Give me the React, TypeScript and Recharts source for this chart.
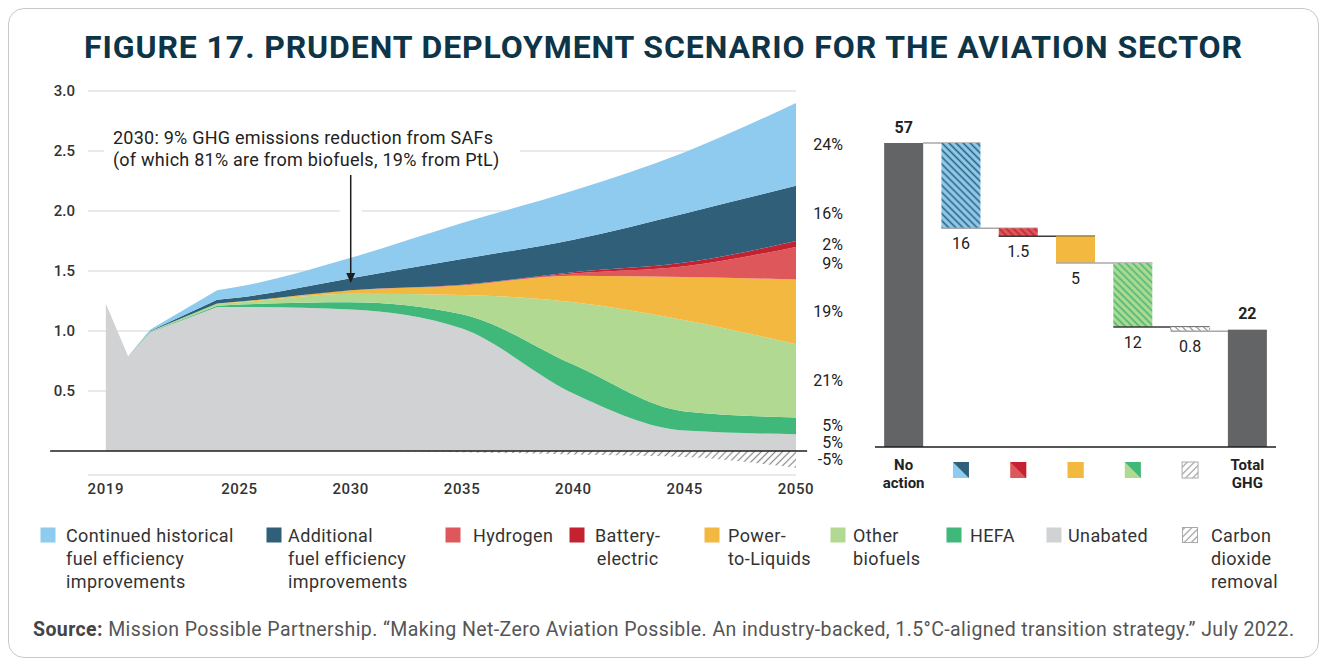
import React from 'react';
import {
  AreaChart,
  Area,
  XAxis,
  YAxis,
  CartesianGrid,
  ReferenceLine,
  ReferenceDot,
  BarChart,
  Bar,
} from 'recharts';

/* ── left panel: aviation emissions by lever, Gt CO2e ── */
const years = [2019, 2020, 2021, 2024, 2025, 2030, 2035, 2040, 2045, 2050];
const unabated = [1.23, 0.79, 0.99, 1.2, 1.2, 1.18, 1.02, 0.48, 0.17, 0.14];
const hefa = [0, 0, 0.004, 0.01, 0.02, 0.06, 0.12, 0.24, 0.16, 0.14];
const otherBiofuels = [0, 0, 0.004, 0.02, 0.02, 0.07, 0.16, 0.52, 0.76, 0.61];
const powerToLiquids = [0, 0, 0, 0, 0.005, 0.03, 0.08, 0.22, 0.36, 0.54];
const hydrogen = [0, 0, 0, 0, 0, 0, 0.005, 0.02, 0.09, 0.27];
const batteryElectric = [0, 0, 0, 0, 0, 0, 0, 0.01, 0.03, 0.05];
const additionalEfficiency = [0, 0, 0.004, 0.03, 0.035, 0.1, 0.215, 0.27, 0.41, 0.46];
const historicalEfficiency = [0, 0, 0.01, 0.08, 0.09, 0.17, 0.3, 0.41, 0.51, 0.69];
const carbonRemoval = [0, 0, 0, 0, 0, 0, -0.01, -0.03, -0.05, -0.14];

const yTicks = [0.5, 1.0, 1.5, 2.0, 2.5, 3.0];
const xTicks = [2019, 2025, 2030, 2035, 2040, 2045, 2050];

const noteLines = [
  '2030: 9% GHG emissions reduction from SAFs',
  '(of which 81% are from biofuels, 19% from PtL)',
];
const noteYear = 2030;

/* ── right panel: cumulative emissions 2022-2050, Gt CO2e ── */
const wfCategories = [
  'No action',
  'Efficiency',
  'Hydrogen and battery',
  'Power-to-Liquids',
  'Biofuels',
  'Carbon dioxide removal',
  'Total GHG',
];
const wfValues = [57, 16, 1.5, 5, 12, 0.8, 22];
const wfLabels = ['57', '16', '1.5', '5', '12', '0.8', '22'];

const C = {
  histEff: '#8ecbef',
  addEff: '#2f5f79',
  battery: '#c42131',
  hydrogen: '#de585b',
  ptl: '#f2b840',
  bio: '#b1d991',
  hefa: '#3fb87a',
  unabated: '#d1d2d4',
  total: '#636466',
};

const stackSeries = [
  { key: 'unabated', values: unabated, fill: C.unabated },
  { key: 'hefa', values: hefa, fill: C.hefa },
  { key: 'bio', values: otherBiofuels, fill: C.bio },
  { key: 'ptl', values: powerToLiquids, fill: C.ptl },
  { key: 'hydrogen', values: hydrogen, fill: C.hydrogen },
  { key: 'battery', values: batteryElectric, fill: C.battery },
  { key: 'addEff', values: additionalEfficiency, fill: C.addEff },
  { key: 'histEff', values: historicalEfficiency, fill: C.histEff },
];

const areaData = years.map((year, i) => {
  const row: Record<string, number> = { year, cdr: carbonRemoval[i] };
  stackSeries.forEach((s) => (row[s.key] = s.values[i]));
  return row;
});

// 2050 shares, placed at the middle of each band
const last = years.length - 1;
const total2050 = stackSeries.reduce((a, s) => a + s.values[last], 0);
let cum = 0;
const shareLabels = stackSeries.map((s) => {
  const v = s.values[last];
  const mid = cum + v / 2;
  cum += v;
  return { key: s.key, mid, text: `${Math.round((v / total2050) * 100)}%` };
});
shareLabels.push({
  key: 'cdr',
  mid: carbonRemoval[last] / 2,
  text: `${Math.round((carbonRemoval[last] / total2050) * 100)}%`,
});

const noteIdx = years.indexOf(noteYear);
const noteTip =
  stackSeries.slice(0, 7).reduce((a, s) => a + s.values[noteIdx], 0) - 0.04;

let level = wfValues[0];
const wfData = wfCategories.map((category, i) => {
  const isTotal = i === 0 || i === wfCategories.length - 1;
  if (isTotal) return { category, base: 0, value: wfValues[i], label: wfLabels[i] };
  level -= wfValues[i];
  return { category, base: level, value: wfValues[i], label: wfLabels[i] };
});

const wfFills = [C.total, 'url(#wfBlue)', 'url(#wfRed)', C.ptl, 'url(#wfGreen)', 'url(#wfCdr)', C.total];
const wfIcons: (string[] | null)[] = [
  null,
  [C.histEff, C.addEff],
  [C.hydrogen, C.battery],
  [C.ptl, C.ptl],
  [C.bio, C.hefa],
  ['hatch', 'hatch'],
  null,
];

const legendItems = [
  { lines: ['Continued historical', 'fuel efficiency', 'improvements'], fill: C.histEff },
  { lines: ['Additional', 'fuel efficiency', 'improvements'], fill: C.addEff },
  { lines: ['Hydrogen'], fill: C.hydrogen },
  { lines: ['Battery-', 'electric'], fill: C.battery, center: true },
  { lines: ['Power-', 'to-Liquids'], fill: C.ptl },
  { lines: ['Other', 'biofuels'], fill: C.bio },
  { lines: ['HEFA'], fill: C.hefa },
  { lines: ['Unabated'], fill: C.unabated },
  { lines: ['Carbon', 'dioxide', 'removal'], fill: 'url(#legendHatch)' },
];
const legendSwatchX = [40, 266, 445, 569, 704, 830, 946, 1046, 1182];
const legendTextX = [66, 288, 473, 595, 728, 853, 970, 1068, 1211];

// left chart geometry
const L_W = 850;
const L_MARGIN = { top: 21, right: 62, bottom: 5, left: 0 };
const L_YAXIS_W = 80;
const X_DOMAIN = [2018.2, 2050];
const LINEAR_UNTIL = 2025; // historical part of the series is drawn with straight segments
const splitPx =
  L_YAXIS_W +
  ((LINEAR_UNTIL - X_DOMAIN[0]) / (X_DOMAIN[1] - X_DOMAIN[0])) *
    (L_W - L_MARGIN.right - L_YAXIS_W);

// straight segments left of splitX, monotone cubic to the right of it
function mixedCurve(splitX: number) {
  return (ctx: any) => {
    let pts: number[][] = [];
    let line = NaN;
    return {
      areaStart() {
        line = 0;
      },
      areaEnd() {
        line = NaN;
      },
      lineStart() {
        pts = [];
      },
      point(x: number, y: number) {
        pts.push([+x, +y]);
      },
      lineEnd() {
        const n = pts.length;
        if (n) {
          if (line) ctx.lineTo(pts[0][0], pts[0][1]);
          else ctx.moveTo(pts[0][0], pts[0][1]);
          const s = (i: number) => (pts[i + 1][1] - pts[i][1]) / (pts[i + 1][0] - pts[i][0] || 1);
          const t: number[] = new Array(n).fill(0);
          for (let i = 1; i < n - 1; i++) {
            const s0 = s(i - 1);
            const s1 = s(i);
            const h0 = pts[i][0] - pts[i - 1][0];
            const h1 = pts[i + 1][0] - pts[i][0];
            const p = (s0 * h1 + s1 * h0) / (h0 + h1);
            t[i] =
              (Math.sign(s0) + Math.sign(s1)) *
                Math.min(Math.abs(s0), Math.abs(s1), 0.5 * Math.abs(p)) || 0;
          }
          if (n === 2) {
            t[0] = t[1] = s(0);
          } else if (n > 2) {
            t[0] = (3 * s(0) - t[1]) / 2;
            t[n - 1] = (3 * s(n - 2) - t[n - 2]) / 2;
          }
          for (let i = 0; i < n - 1; i++) {
            const [x0, y0] = pts[i];
            const [x1, y1] = pts[i + 1];
            if (Math.max(x0, x1) <= splitX + 0.5) {
              ctx.lineTo(x1, y1);
            } else {
              const dx = (x1 - x0) / 3;
              ctx.bezierCurveTo(x0 + dx, y0 + dx * t[i], x1 - dx, y1 - dx * t[i + 1], x1, y1);
            }
          }
        }
        if (line) ctx.closePath();
        line = 1 - line;
      },
    };
  };
}
const areaCurve = mixedCurve(splitPx);

function Patterns() {
  const stripe = (id: string, bg: string, fg: string, angle: number, w = 2) => (
    <pattern
      id={id}
      patternUnits="userSpaceOnUse"
      width={5}
      height={5}
      patternTransform={`rotate(${angle})`}
    >
      <rect width={5} height={5} fill={bg} />
      <line x1={2.5} y1={0} x2={2.5} y2={5} stroke={fg} strokeWidth={w} />
    </pattern>
  );
  return (
    <svg width={0} height={0} style={{ position: 'absolute' }}>
      <defs>
        {stripe('cdrHatch', '#ffffff', '#8a8a8a', 45, 1.2)}
        {stripe('legendHatch', '#ffffff', '#9a9a9a', 45, 1.2)}
        {stripe('wfBlue', C.histEff, C.addEff, -45, 1.6)}
        {stripe('wfRed', C.hydrogen, C.battery, -45, 1.6)}
        {stripe('wfGreen', C.bio, C.hefa, -45, 1.6)}
        {stripe('wfCdr', '#ffffff', '#8a8a8a', -45, 1.2)}
      </defs>
    </svg>
  );
}

function EmissionsChart() {
  return (
    <AreaChart width={L_W} height={440} data={areaData} margin={L_MARGIN}>
      <CartesianGrid vertical={false} stroke="#d4d4d4" />
      <XAxis
        dataKey="year"
        type="number"
        domain={X_DOMAIN}
        ticks={xTicks}
        axisLine={false}
        tickLine={false}
        height={30}
        tick={{ fill: '#333', fontSize: 15, fontWeight: 500, letterSpacing: 0.6 }}
      />
      <YAxis
        type="number"
        domain={[-0.2, 3]}
        ticks={yTicks}
        axisLine={false}
        tickLine={false}
        width={L_YAXIS_W}
        tickMargin={7}
        tickFormatter={(v: number) => v.toFixed(1)}
        tick={{ fill: '#333', fontSize: 15, fontWeight: 500 }}
      />
      {stackSeries.map((s) => (
        <Area
          key={s.key}
          dataKey={s.key}
          stackId="pos"
          type={areaCurve as any}
          stroke="none"
          fill={s.fill}
          fillOpacity={1}
          isAnimationActive={false}
        />
      ))}
      <Area
        dataKey="cdr"
        type={areaCurve as any}
        stroke="none"
        fill="url(#cdrHatch)"
        fillOpacity={1}
        isAnimationActive={false}
      />
      <ReferenceLine
        segment={[{ x: 2016.5, y: 0 }, { x: 2050.5, y: 0 }]}
        stroke="#1e1e1e"
        strokeWidth={1.6}
        ifOverflow="visible"
      />
      <ReferenceLine
        segment={[{ x: noteYear, y: 2.3 }, { x: noteYear, y: 1.75 }]}
        stroke="#ffffff"
        strokeWidth={22}
        ifOverflow="visible"
      />
      <ReferenceLine
        segment={[{ x: noteYear, y: 2.3 }, { x: noteYear, y: noteTip + 0.05 }]}
        stroke="#1e1e1e"
        strokeWidth={1.5}
        ifOverflow="visible"
      />
      <ReferenceDot
        x={noteYear}
        y={noteTip}
        ifOverflow="visible"
        shape={(p: any) => (
          <polygon
            points={`${p.cx - 4.5},${p.cy - 10} ${p.cx + 4.5},${p.cy - 10} ${p.cx},${p.cy}`}
            fill="#1e1e1e"
          />
        )}
      />
      <ReferenceDot
        x={2019.32}
        y={2.61}
        ifOverflow="visible"
        shape={(p: any) => (
          <g>
            <rect x={p.cx - 9} y={p.cy - 12} width={416} height={46} fill="#fff" />
            {noteLines.map((t, i) => (
              <text
                key={i}
                x={p.cx}
                y={p.cy + i * 22}
                dominantBaseline="central"
                fontSize={18}
                letterSpacing={0.25}
                fill="#222"
              >
                {t}
              </text>
            ))}
          </g>
        )}
      />
      {shareLabels.map((l) => (
        <ReferenceDot
          key={l.key}
          x={2050}
          y={l.mid}
          ifOverflow="visible"
          shape={(p: any) => (
            <text
              x={p.cx + 47}
              y={p.cy}
              textAnchor="end"
              dominantBaseline="central"
              fontSize={16}
              fill="#222"
            >
              {l.text}
            </text>
          )}
        />
      ))}
    </AreaChart>
  );
}

const WF_W = 430;
const WF_MARGIN = { top: 27, right: 14, bottom: 8, left: 15 };
const WF_BAND = (WF_W - WF_MARGIN.left - WF_MARGIN.right) / wfCategories.length;

function WfBar(props: any) {
  const { x, y, width, height, payload } = props;
  const i = wfCategories.indexOf(payload.category);
  const isTotal = i === 0 || i === wfCategories.length - 1;
  const cx = x + width / 2;
  return (
    <g>
      <rect
        x={x}
        y={y}
        width={width}
        height={height}
        fill={wfFills[i]}
        stroke={i === 5 ? '#9a9a9a' : 'none'}
        strokeDasharray={i === 5 ? '2 2' : undefined}
      />
      {i === 0 && (
        <line x1={x + width} y1={y} x2={x + WF_BAND + width} y2={y} stroke="#a8a8a8" strokeWidth={1.5} />
      )}
      {!isTotal && (
        <line
          x1={x}
          y1={y + height}
          x2={x + WF_BAND + width}
          y2={y + height}
          stroke={i % 2 === 0 ? '#3a3a3a' : '#a8a8a8'}
          strokeWidth={1.5}
        />
      )}
      <text
        x={cx}
        y={isTotal ? y - 16 : y + height + 15}
        textAnchor="middle"
        dominantBaseline="central"
        fontSize={16}
        fontWeight={isTotal ? 700 : 400}
        fill="#222"
      >
        {payload.label}
      </text>
    </g>
  );
}

function WfTick(props: any) {
  const { x, y, payload } = props;
  const i = wfCategories.indexOf(payload.value);
  const icon = wfIcons[i];
  if (!icon) {
    const lines = payload.value.split(' ');
    return (
      <g>
        {lines.map((t: string, k: number) => (
          <text
            key={k}
            x={x}
            y={y + 10 + k * 18}
            textAnchor="middle"
            dominantBaseline="central"
            fontSize={15}
            fontWeight={700}
            fill="#222"
          >
            {t}
          </text>
        ))}
      </g>
    );
  }
  const s = 16;
  const left = x - s / 2;
  const top = y + 7;
  if (icon[0] === 'hatch') {
    return (
      <rect x={left} y={top} width={s} height={s} fill="url(#legendHatch)" stroke="#aaa" strokeWidth={1} />
    );
  }
  return (
    <g>
      <rect x={left} y={top} width={s} height={s} fill={icon[0]} />
      <polygon points={`${left},${top} ${left + s},${top} ${left + s},${top + s}`} fill={icon[1]} />
    </g>
  );
}

function WaterfallChart() {
  return (
    <BarChart width={WF_W} height={400} data={wfData} margin={WF_MARGIN} barCategoryGap="16%">
      <XAxis
        dataKey="category"
        interval={0}
        height={45}
        tickLine={false}
        axisLine={{ stroke: '#1e1e1e', strokeWidth: 1.6 }}
        tick={WfTick}
      />
      <YAxis hide domain={[0, 60]} />
      <Bar dataKey="base" stackId="wf" fill="transparent" isAnimationActive={false} />
      <Bar dataKey="value" stackId="wf" shape={WfBar} isAnimationActive={false} />
    </BarChart>
  );
}

function LegendRow() {
  return (
    <>
      {legendItems.map((item, i) => (
        <React.Fragment key={i}>
          <svg
            width={16}
            height={16}
            style={{ position: 'absolute', left: legendSwatchX[i] - 8, top: 527 - 8 }}
          >
            <rect
              x={0.5}
              y={0.5}
              width={15}
              height={15}
              fill={item.fill}
              stroke={i === 8 ? '#aaa' : 'none'}
            />
          </svg>
          <div
            style={{
              position: 'absolute',
              left: legendTextX[i] - 8,
              top: 535 - 8 - 11.5,
              fontSize: 18,
              letterSpacing: 0.4,
              lineHeight: '23px',
              color: '#333',
              textAlign: item.center ? 'center' : 'left',
              whiteSpace: 'nowrap',
            }}
          >
            {item.lines.map((l, k) => (
              <div key={k}>{l}</div>
            ))}
          </div>
        </React.Fragment>
      ))}
    </>
  );
}

export default function App() {
  return (
    <div
      style={{
        position: 'absolute',
        left: 8,
        top: 8,
        width: 1311,
        height: 650,
        fontFamily: 'Roboto, sans-serif',
        background: '#fff',
      }}
    >
      <Patterns />
      <div
        style={{
          position: 'absolute',
          inset: 0,
          border: '1.5px solid #c9c9c9',
          borderRadius: 16,
          boxSizing: 'border-box',
        }}
      />
      <div
        style={{
          position: 'absolute',
          left: 0,
          top: 23,
          width: '100%',
          textAlign: 'center',
          fontSize: 32,
          lineHeight: '32px',
          fontWeight: 700,
          letterSpacing: 0.9,
          color: '#0e3447',
        }}
      >
        FIGURE 17. PRUDENT DEPLOYMENT SCENARIO FOR THE AVIATION SECTOR
      </div>
      <div style={{ position: 'absolute', left: 0, top: 62 }}>
        <EmissionsChart />
      </div>
      <div style={{ position: 'absolute', left: 852, top: 92 }}>
        <WaterfallChart />
      </div>
      <LegendRow />
      <div
        style={{
          position: 'absolute',
          left: 25,
          top: 611,
          fontSize: 19.5,
          letterSpacing: 0.4,
          lineHeight: '22px',
          color: '#555',
          whiteSpace: 'nowrap',
        }}
      >
        <b style={{ color: '#444' }}>Source:</b> Mission Possible Partnership. “Making Net-Zero
        Aviation Possible. An industry-backed, 1.5°C-aligned transition strategy.” July 2022.
      </div>
    </div>
  );
}
